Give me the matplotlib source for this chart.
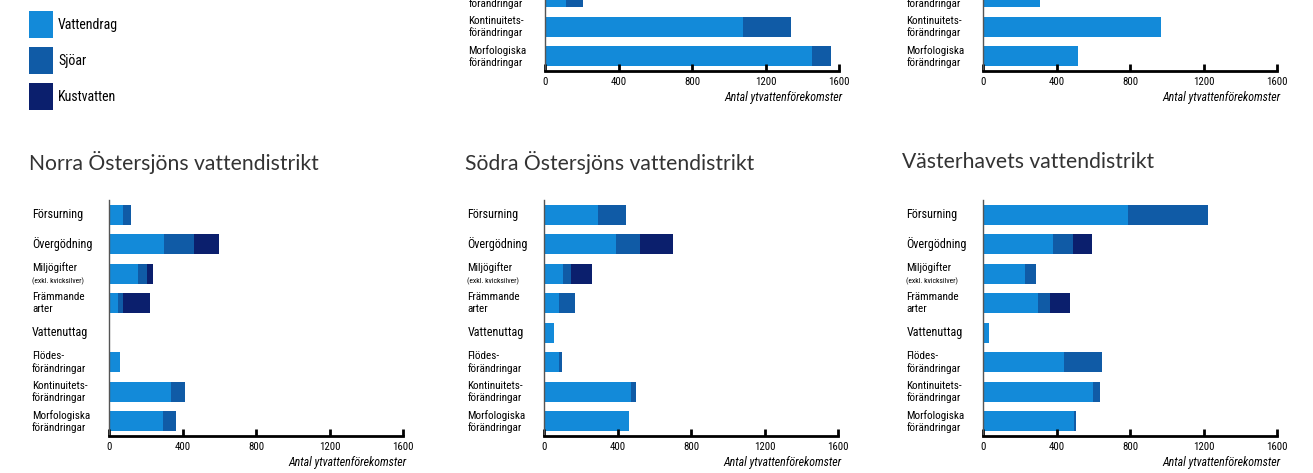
import matplotlib
matplotlib.use('Agg')
import matplotlib.pyplot as plt
from matplotlib import font_manager
from matplotlib.patches import Patch

W, H, DPI = 1313, 473, 100

# ---------------- data ----------------
series = ['Vattendrag', 'Sjöar', 'Kustvatten']
colors = ['#138ad9', '#105ba6', '#0b1f6d']

categories = ['Försurning', 'Övergödning', 'Miljögifter', 'Främmande arter',
              'Vattenuttag', 'Flödesförändringar', 'Kontinuitetsförändringar',
              'Morfologiska förändringar']
cat_lines = [['Försurning'], ['Övergödning'], ['Miljögifter', '(exkl. kvicksilver)'],
             ['Främmande', 'arter'], ['Vattenuttag'], ['Flödes-', 'förändringar'],
             ['Kontinuitets-', 'förändringar'], ['Morfologiska', 'förändringar']]

xticks = [0, 400, 800, 1200, 1600]
xlabel = 'Antal ytvattenförekomster'

titles = ['Norra Östersjöns vattendistrikt', 'Södra Östersjöns vattendistrikt',
          'Västerhavets vattendistrikt']

norra_vattendrag = [78, 300, 160, 50, 0, 60, 335, 292]
norra_sjoar = [40, 165, 48, 28, 0, 0, 80, 73]
norra_kust = [0, 135, 33, 147, 0, 0, 0, 0]

sodra_vattendrag = [293, 390, 103, 78, 53, 80, 474, 462]
sodra_sjoar = [154, 130, 42, 90, 0, 14, 24, 0]
sodra_kust = [0, 182, 114, 0, 0, 0, 0, 0]

vast_vattendrag = [790, 380, 225, 296, 33, 440, 595, 491]
vast_sjoar = [435, 108, 63, 67, 0, 204, 40, 11]
vast_kust = [0, 106, 0, 107, 0, 0, 0, 0]

# top row (only the last three categories are visible)
top_idx = [5, 6, 7]
topmid_vattendrag = [113, 1075, 1452]
topmid_sjoar = [94, 261, 101]
topmid_kust = [0, 0, 0]
topright_vattendrag = [309, 966, 514]
topright_sjoar = [0, 0, 0]
topright_kust = [0, 0, 0]

# ---------------- fonts ----------------
avail = {f.name for f in font_manager.fontManager.ttflist}
def pick(cands):
    for c in cands:
        if c in avail:
            return c
    return 'DejaVu Sans'
NARROW = pick(['Liberation Sans Narrow', 'Roboto Condensed', 'Open Sans Condensed', 'Lato'])
TITLEF = pick(['Lato', 'Open Sans', 'Liberation Sans'])

LABEL_FS = 8.7
LABEL2_FS = 8.0

fig = plt.figure(figsize=(W / DPI, H / DPI), dpi=DPI)

def px_axes(left, bottom_px, width, height):
    return fig.add_axes([left / W, (H - bottom_px) / H, width / W, height / H])

def style(ax, labels_idx):
    ax.set_xlim(0, 1600)
    ax.set_ylim(7.5, -0.5)
    for s in ['top', 'right']:
        ax.spines[s].set_visible(False)
    ax.spines['left'].set_color('#555555')
    ax.spines['left'].set_linewidth(1.0)
    ax.spines['bottom'].set_color('black')
    ax.spines['bottom'].set_linewidth(2.0)
    ax.set_xticks(xticks)
    ax.set_xticklabels([str(t) for t in xticks], fontsize=7.8, family=NARROW)
    ax.tick_params(axis='x', direction='in', length=5, width=2, pad=4, colors='black')
    ax.set_yticks([])
    ax.set_xlabel(xlabel, fontsize=8.6, family=NARROW, style='italic')
    ax.xaxis.set_label_coords(1.012, -0.085)
    ax.xaxis.label.set_ha('right')
    tr = ax.get_yaxis_transform()
    xo = -77 / 294
    for i in labels_idx:
        lines = cat_lines[i]
        if len(lines) == 1:
            ax.text(xo, i, lines[0], transform=tr, ha='left', va='center', fontsize=LABEL_FS,
                    family=NARROW, clip_on=False)
        elif i == 2:
            ax.text(xo, i - 0.2, lines[0], transform=tr, ha='left', va='center', fontsize=LABEL2_FS,
                    family=NARROW, clip_on=False)
            ax.text(xo, i + 0.25, lines[1], transform=tr, ha='left', va='center', fontsize=5.5,
                    family=NARROW, clip_on=False)
        else:
            ax.text(xo, i - 0.21, lines[0], transform=tr, ha='left', va='center', fontsize=LABEL2_FS,
                    family=NARROW, clip_on=False)
            ax.text(xo, i + 0.21, lines[1], transform=tr, ha='left', va='center', fontsize=LABEL2_FS,
                    family=NARROW, clip_on=False)

def bars(ax, pos, v, s, k):
    h = 0.68
    ax.barh(pos, v, height=h, color=colors[0], linewidth=0)
    ax.barh(pos, s, left=v, height=h, color=colors[1], linewidth=0)
    left2 = [a + b for a, b in zip(v, s)]
    ax.barh(pos, k, left=left2, height=h, color=colors[2], linewidth=0)

full = list(range(len(categories)))

# bottom row
bottom_lefts = [109, 544.3, 983.3]
bottom_data = [(norra_vattendrag, norra_sjoar, norra_kust),
               (sodra_vattendrag, sodra_sjoar, sodra_kust),
               (vast_vattendrag, vast_sjoar, vast_kust)]
title_x = [29, 465, 902]
for j in range(3):
    ax = px_axes(bottom_lefts[j], 436, 294, 236)
    bars(ax, full, *bottom_data[j])
    style(ax, full)
    fig.text(title_x[j] / W, 1 - 162 / H, titles[j], fontsize=15.2, family=TITLEF,
             color='#333333', ha='left', va='center')

# top row (cut off by the figure edge)
top_lefts = [545.3, 983.3]
top_data = [(topmid_vattendrag, topmid_sjoar, topmid_kust),
            (topright_vattendrag, topright_sjoar, topright_kust)]
for j in range(2):
    ax = px_axes(top_lefts[j], 71, 294, 236)
    bars(ax, top_idx, *top_data[j])
    style(ax, top_idx)

# legend
handles = [Patch(facecolor=c, edgecolor='none') for c in colors]
fig.legend(handles, series, loc='upper left', bbox_to_anchor=(29 / W, 1 - 11 / H),
           frameon=False, prop={'family': NARROW, 'size': 10},
           handlelength=1.73, handleheight=2.61, labelspacing=0.65,
           handletextpad=0.36, borderpad=0, borderaxespad=0)

fig.savefig('out.png', dpi=DPI)
